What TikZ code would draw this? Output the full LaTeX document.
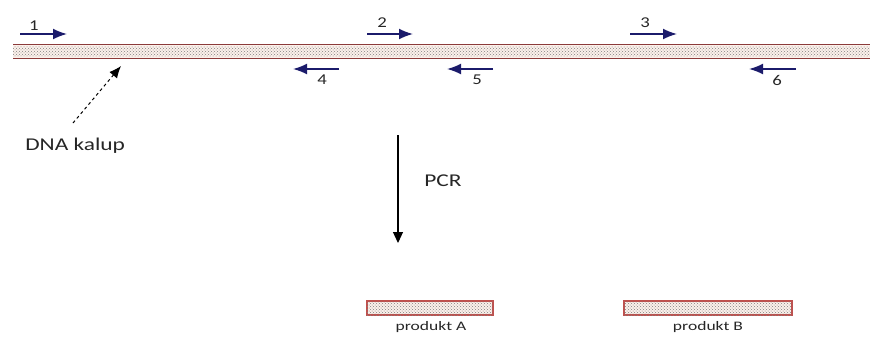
\documentclass[tikz,border=0pt]{standalone}
\usepackage{fontspec}
\setmainfont{Carlito}
\usetikzlibrary{arrows.meta,patterns}
\definecolor{strandline}{HTML}{8B3A3A}
\definecolor{strandfill}{HTML}{FBF0EA}
\definecolor{boxline}{HTML}{C0504D}
\definecolor{primer}{HTML}{1B1B6B}
\definecolor{txt}{HTML}{262626}
\tikzset{
  primerarrow/.style={draw=primer, line width=1.7pt, -{Latex[length=14pt,width=11pt]}},
  numlabel/.style={font=\fontsize{15}{17}\selectfont, text=txt, inner sep=0pt, xscale=1.25},
  biglabel/.style={font=\fontsize{18}{20}\selectfont, text=txt, inner sep=0pt, xscale=1.3},
  smalllabel/.style={font=\fontsize{13}{15}\selectfont, text=txt, inner sep=0pt, xscale=1.35},
  prodbox/.style={draw=boxline, line width=1.3pt, fill=strandfill,
    postaction={pattern=crosshatch dots, pattern color=gray},
    minimum height=14pt, inner sep=0pt},
}
\begin{document}
\begin{tikzpicture}[x=1pt,y=-1pt]
\useasboundingbox (0,0) rectangle (870,338);
% template strand
\fill[strandfill] (13,44.5) rectangle (870,58.5);
\fill[pattern=crosshatch dots, pattern color=gray] (13,46.5) rectangle (870,56.5);
\draw[strandline, line width=1.6pt] (13,44.5) -- (870,44.5);
\draw[strandline, line width=1.6pt] (13,58.5) -- (870,58.5);
% forward primers
\coordinate (p1a) at (20,34);  \coordinate (p1b) at (67,34);
\coordinate (p2a) at (367,34); \coordinate (p2b) at (413,34);
\coordinate (p3a) at (630,34); \coordinate (p3b) at (677,34);
\draw[primerarrow] (p1a) -- (p1b);
\draw[primerarrow] (p2a) -- (p2b);
\draw[primerarrow] (p3a) -- (p3b);
\node[numlabel] (l1) at (34,26) {1};
\node[numlabel] (l2) at (382,23) {2};
\node[numlabel] (l3) at (645,23) {3};
% reverse primers
\coordinate (p4a) at (339,69); \coordinate (p4b) at (293,69);
\coordinate (p5a) at (493,69); \coordinate (p5b) at (447,69);
\coordinate (p6a) at (796,69); \coordinate (p6b) at (749,69);
\draw[primerarrow] (p4a) -- (p4b);
\draw[primerarrow] (p5a) -- (p5b);
\draw[primerarrow] (p6a) -- (p6b);
\node[numlabel] (l4) at (322,80) {4};
\node[numlabel] (l5) at (477,80) {5};
\node[numlabel] (l6) at (777,80) {6};
% DNA kalup label
\node[biglabel, anchor=west] (kal) at (25,146) {DNA kalup};
\coordinate (kaltail) at (73,123);
\coordinate (kalhead) at (121,66);
\draw[black, line width=1pt, dashed, -{Latex[length=12pt,width=10pt]}] (kaltail) -- (kalhead);
% PCR arrow
\coordinate (pcrtop) at (398,135);
\coordinate (pcrbot) at (398,243);
\draw[black, line width=1.1pt, -{Triangle[length=11pt,width=10pt]}] (pcrtop) -- (pcrbot);
\node[biglabel] (pcr) at (443,181) {PCR};
% products
\node[prodbox, minimum width=126pt] (pA) at (430,308) {};
\node[prodbox, minimum width=168pt] (pB) at (708,308) {};
\node[smalllabel] (lA) at (431,327) {produkt A};
\node[smalllabel] (lB) at (708,327) {produkt B};
\end{tikzpicture}
\end{document}
